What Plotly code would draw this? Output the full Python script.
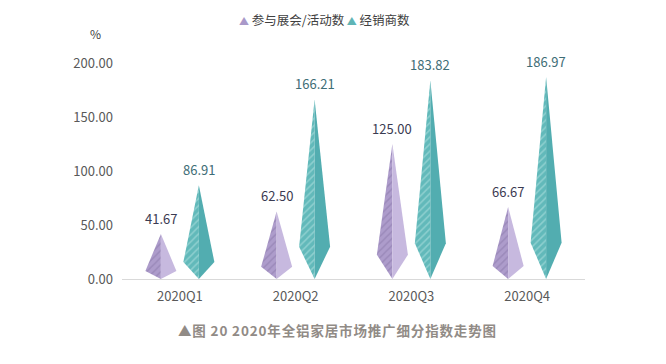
import plotly.graph_objects as go

categories = ["2020Q1", "2020Q2", "2020Q3", "2020Q4"]
series_names = ["参与展会/活动数", "经销商数"]
exhibit_values = [41.67, 62.50, 125.00, 66.67]
dealer_values = [86.91, 166.21, 183.82, 186.97]
y_ticks = [0, 50, 100, 150, 200]

FONT = "Noto Sans CJK SC, Microsoft YaHei, sans-serif"

styles = [
    dict(offset=-0.164, left=dict(bg="#ad9ccb", fg="#8a78a9"), right="#c7b9df", label="#3b3b52", legend="#a999c9"),
    dict(offset=0.164, left=dict(bg="#62b9ba", fg="#b9e6e4"), right="#52adb0", label="#3e6d76", legend="#5fb5b6"),
]
HALF_W = 0.134
WAIST = 0.18

# page body has an 8px default margin; figure sized so it fits the window
OFF = 8
W, H = 666 - OFF, 364 - OFF
L, T = 122 - OFF, 63 - OFF
R = W - (585 - OFF)
B = H - (279 - OFF)
pw = W - L - R
ph = H - T - B


def px_x(px):
    return (px - OFF - L) / pw


def px_y(py):
    return (H - B - (py - OFF)) / ph


fig = go.Figure()
annotations = []
for s_idx, (name, vals) in enumerate(zip(series_names, [exhibit_values, dealer_values])):
    st = styles[s_idx]
    for i, v in enumerate(vals):
        c = i + st["offset"]
        # left face
        fig.add_trace(go.Scatter(
            x=[c, c - HALF_W, c, c], y=[v, v * WAIST, 0, v],
            fill="toself", mode="lines", line=dict(width=0, color=st["left"]["bg"]),
            fillcolor=st["left"]["bg"],
            fillpattern=dict(shape="/", fgcolor=st["left"]["fg"], bgcolor=st["left"]["bg"], size=5, solidity=0.3),
            showlegend=False, hoverinfo="skip", name=name))
        # right face
        fig.add_trace(go.Scatter(
            x=[c, c, c + HALF_W, c], y=[v, 0, v * WAIST, v],
            fill="toself", mode="lines", line=dict(width=0, color=st["right"]),
            fillcolor=st["right"], showlegend=False, hoverinfo="skip", name=name))
        annotations.append(dict(x=c, y=v, xref="x", yref="y", text=f"{v:.2f}", showarrow=False,
                                yshift=16, font=dict(size=13, color=st["label"], family=FONT)))

legend_text = "\u2009".join(
    f'<span style="color:{styles[k]["legend"]};font-size:10px">▲</span> {series_names[k]}' for k in range(2))
annotations.append(dict(x=px_x(324), y=px_y(20), xref="paper", yref="paper", text=legend_text,
                        xanchor="center", yanchor="middle", showarrow=False,
                        font=dict(size=12.5, color="#404040", family=FONT)))
annotations.append(dict(x=px_x(95), y=px_y(33), xref="paper", yref="paper", text="%",
                        xanchor="center", yanchor="middle",
                        showarrow=False, font=dict(size=12, color="#404040", family=FONT)))
cap = "▲图 20 2020年全铝家居市场推广细分指数走势图"
cap_spaced = "\u200a".join(list(cap))
annotations.append(dict(x=px_x(337), y=px_y(330), xref="paper", yref="paper", text=f"<b>{cap_spaced}</b>",
                        xanchor="center", yanchor="middle",
                        showarrow=False, font=dict(size=13.5, color="#918b86", family=FONT)))

fig.update_layout(
    width=W, height=H,
    margin=dict(l=L, r=R, t=T, b=B, autoexpand=False),
    paper_bgcolor="white", plot_bgcolor="white",
    font=dict(family=FONT, size=12, color="#595959"),
    xaxis=dict(range=[-0.5, 3.5], tickmode="array", tickvals=list(range(len(categories))), ticktext=categories,
               showgrid=False, zeroline=False, showline=False, ticks="", automargin=False,
               ticklabelstandoff=8, tickfont=dict(size=13, color="#595959")),
    yaxis=dict(range=[0, 200], tickmode="array", tickvals=y_ticks, ticktext=[f"{t:.2f}" for t in y_ticks],
               showgrid=False, zeroline=True, zerolinecolor="#d9d9d9", zerolinewidth=1, showline=False, ticks="",
               automargin=False, ticklabelstandoff=8, tickfont=dict(size=13, color="#595959")),
    showlegend=False,
    annotations=annotations,
)
fig.write_html("out.html")
